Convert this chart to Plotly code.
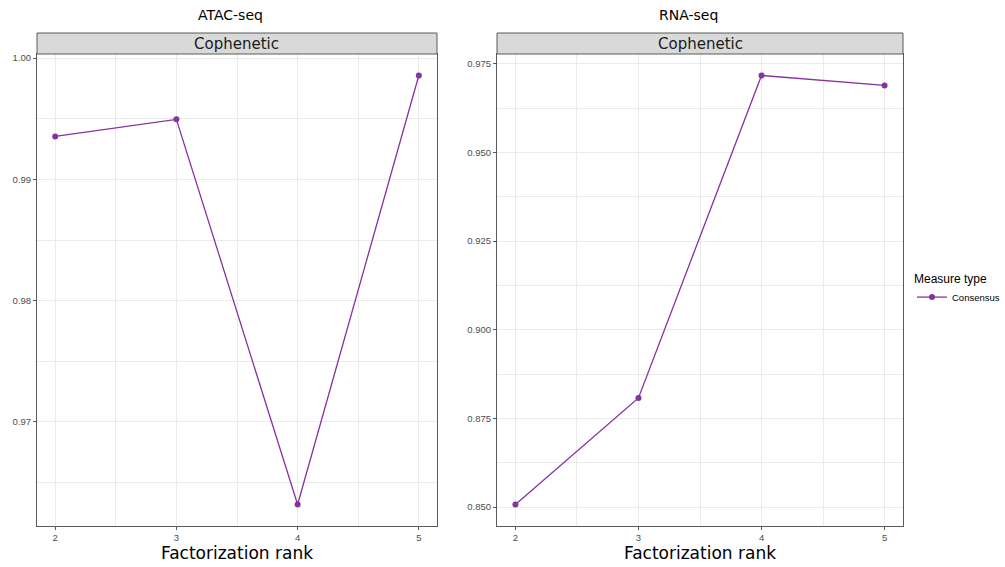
import plotly.graph_objects as go

# Factorization ranks and cophenetic correlation per assay
ranks = [2, 3, 4, 5]
atac_cophenetic = [0.99354, 0.99495, 0.96319, 0.99857]
rna_cophenetic = [0.85073, 0.88080, 0.97170, 0.96890]

atac_ticks = [0.97, 0.98, 0.99, 1.00]
atac_ticktext = ["0.97", "0.98", "0.99", "1.00"]
rna_ticks = [0.850, 0.875, 0.900, 0.925, 0.950, 0.975]
rna_ticktext = ["0.850", "0.875", "0.900", "0.925", "0.950", "0.975"]

panel_titles = ["ATAC-seq", "RNA-seq"]
strip_label = "Cophenetic"
x_title = "Factorization rank"
legend_title = "Measure type"
series_name = "Consensus"

PURPLE = "#8433A0"
GRID = "#EBEBEB"
BORDER = "#5a5a5a"
FONT = "DejaVu Sans"
SANS = "Liberation Sans"

W, H = 1005, 567
# panel plotting regions in pixels: (left, right)
panels_px = [(37, 437), (497, 903)]
top_px, bottom_px = 54, 526
strip_h = 21

fig = go.Figure()

fig.add_trace(go.Scatter(
    x=ranks, y=atac_cophenetic, mode="lines+markers", name=series_name,
    line=dict(color=PURPLE, width=1.3), marker=dict(color=PURPLE, size=6),
    xaxis="x", yaxis="y", showlegend=True))
fig.add_trace(go.Scatter(
    x=ranks, y=rna_cophenetic, mode="lines+markers", name=series_name,
    line=dict(color=PURPLE, width=1.3), marker=dict(color=PURPLE, size=6),
    xaxis="x2", yaxis="y2", showlegend=False))


def yrange(vals):
    lo, hi = min(vals), max(vals)
    pad = (hi - lo) * 0.05
    return [lo - pad, hi + pad]


ydom = [1 - bottom_px / H, 1 - top_px / H]

def xaxis_cfg(left, right):
    return dict(
        domain=[left / W, right / W], range=[1.85, 5.15], automargin=False,
        tickvals=ranks, ticktext=[str(r) for r in ranks],
        showgrid=True, gridcolor=GRID, gridwidth=1,
        minor=dict(tickvals=[2.5, 3.5, 4.5], showgrid=True, gridcolor=GRID, gridwidth=0.6, ticks=""),
        ticks="outside", ticklen=3, tickcolor=BORDER, tickwidth=1,
        tickfont=dict(family=SANS, size=9.5, color="#4d4d4d"),
        showline=True, linecolor=BORDER, linewidth=1, mirror=True,
        zeroline=False,
        title=dict(text=x_title, font=dict(family=FONT, size=17, color="black"), standoff=3),
    )


def yaxis_cfg(anchor, vals, tv, tt, minor_vals):
    return dict(
        domain=ydom, range=yrange(vals), anchor=anchor, automargin=False,
        tickvals=tv, ticktext=tt,
        showgrid=True, gridcolor=GRID, gridwidth=1,
        minor=dict(tickvals=minor_vals, showgrid=True, gridcolor=GRID, gridwidth=0.6, ticks=""),
        ticks="outside", ticklen=3, tickcolor=BORDER, tickwidth=1,
        tickfont=dict(family=SANS, size=9.5, color="#4d4d4d"),
        showline=True, linecolor=BORDER, linewidth=1, mirror=True,
        zeroline=False,
    )


fig.update_layout(
    width=W, height=H,
    margin=dict(l=0, r=0, t=0, b=0, autoexpand=False),
    paper_bgcolor="white", plot_bgcolor="white",
    font=dict(family=FONT),
    xaxis=dict(xaxis_cfg(*panels_px[0]), anchor="y"),
    xaxis2=dict(xaxis_cfg(*panels_px[1]), anchor="y2"),
    yaxis=yaxis_cfg("x", atac_cophenetic, atac_ticks, atac_ticktext, [0.965, 0.975, 0.985, 0.995]),
    yaxis2=yaxis_cfg("x2", rna_cophenetic, rna_ticks, rna_ticktext,
                     [0.8625, 0.8875, 0.9125, 0.9375, 0.9625]),
    legend=dict(
        x=1.0, y=1 - 267 / H, xanchor="right", yanchor="top",
        title=dict(text=legend_title, font=dict(family=SANS, size=12, color="black")),
        font=dict(family=SANS, size=9.5, color="black"),
        itemwidth=30, tracegroupgap=0, bgcolor="rgba(0,0,0,0)",
    ),
)

shapes = []
annotations = []
for i, (left, right) in enumerate(panels_px):
    suffix = "" if i == 0 else "2"
    # strip header above each panel
    shapes.append(dict(
        type="rect", xref=f"x{suffix} domain", yref="paper",
        x0=0, x1=1, y0=1 - top_px / H, y1=1 - (top_px - strip_h) / H,
        fillcolor="#D9D9D9", line=dict(color=BORDER, width=1), layer="above"))
    annotations.append(dict(
        text=strip_label, xref=f"x{suffix} domain", yref="paper",
        x=0.5, y=1 - (top_px - strip_h / 2) / H, showarrow=False,
        xanchor="center", yanchor="middle",
        font=dict(family=FONT, size=15, color="#1a1a1a")))
    annotations.append(dict(
        text=panel_titles[i], xref="paper", yref="paper",
        x=(230 if i == 0 else 688) / W, y=1 - 15 / H, showarrow=False,
        xanchor="center", yanchor="middle",
        font=dict(family=FONT, size=14, color="black")))

fig.update_layout(shapes=shapes, annotations=annotations)

fig.write_html("out.html")
